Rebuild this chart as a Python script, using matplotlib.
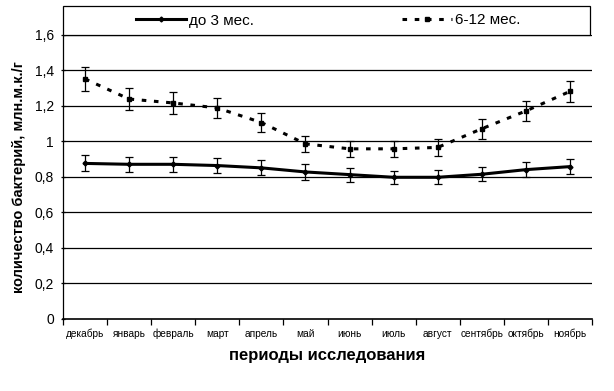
import matplotlib
matplotlib.use("Agg")
import matplotlib.pyplot as plt
from matplotlib.lines import Line2D
from matplotlib.patches import Rectangle
import numpy as np

months = ["декабрь", "январь", "февраль", "март", "апрель", "май",
          "июнь", "июль", "август", "сентябрь", "октябрь", "ноябрь"]
s1_name = "до 3 мес."
s2_name = "6-12 мес."
s1 = [0.875, 0.870, 0.870, 0.863, 0.850, 0.827, 0.812, 0.797, 0.797, 0.814, 0.840, 0.857]
s1_err = [0.045, 0.043, 0.043, 0.040, 0.042, 0.043, 0.040, 0.038, 0.040, 0.039, 0.042, 0.043]
s2 = [1.350, 1.237, 1.215, 1.187, 1.105, 0.985, 0.957, 0.957, 0.965, 1.070, 1.170, 1.280]
s2_err = [0.066, 0.064, 0.062, 0.056, 0.055, 0.046, 0.045, 0.045, 0.046, 0.055, 0.058, 0.060]
yticks = [0, 0.2, 0.4, 0.6, 0.8, 1.0, 1.2, 1.4, 1.6]
ytick_labels = ["0", "0,2", "0,4", "0,6", "0,8", "1", "1,2", "1,4", "1,6"]

plt.rcParams['font.family'] = ['Liberation Sans', 'DejaVu Sans']

fig = plt.figure(figsize=(6.14, 3.91), dpi=100)
ax = fig.add_axes([63/614, 1-319/391, (592-63)/614, (319-34.5)/391])

x = np.arange(len(months))
dash = (0, (1.5, 2.5))
ax.errorbar(x, s1, yerr=s1_err, color='black', lw=2.2, marker='D', ms=2.5,
            elinewidth=0.9, capsize=3, capthick=0.9, zorder=3)
ax.errorbar(x, s2, yerr=s2_err, color='black', lw=2.2, ls=dash, marker='s', ms=3.5,
            elinewidth=0.9, capsize=3, capthick=0.9, zorder=3)

ax.set_xlim(-0.5, len(months) - 0.5)
ax.set_ylim(0, 1.6)
ax.set_yticks(yticks)
ax.set_yticklabels(ytick_labels, fontsize=10)
for yv in yticks[1:]:
    ax.axhline(yv, color='black', lw=0.9, zorder=1)

ax.set_xticks(x)
ax.set_xticklabels(months, fontsize=7.3)
ax.tick_params(axis='x', length=0, pad=7)
ax.set_xticks(np.arange(-0.5, len(months)), minor=True)
ax.tick_params(axis='x', which='minor', length=4, width=0.9, direction='out')
ax.tick_params(axis='y', length=3, width=0.9, direction='inout', pad=5)

for side in ['top', 'right']:
    ax.spines[side].set_visible(False)
ax.spines['left'].set_linewidth(0.9)
ax.spines['bottom'].set_linewidth(1.2)

ax.set_xlabel("периоды исследования", fontsize=12, fontweight='bold', labelpad=6)
ax.set_ylabel("количество бактерий, млн.м.к./г", fontsize=10.5, fontweight='bold', labelpad=6)

# legend box
fig.patches.append(Rectangle((63/614, 1-35/391), (590-63)/614, 29/391,
                             transform=fig.transFigure, facecolor='white',
                             edgecolor='black', lw=0.9, zorder=5))
handles = [Line2D([], [], color='black', lw=2.2, marker='D', ms=2.5),
           Line2D([], [], color='black', lw=2.2, ls=dash, marker='s', ms=3.5)]
leg = fig.legend(handles, [s1_name, s2_name], loc='center',
                 bbox_to_anchor=(328/614, 1-20.5/391), ncol=2, frameon=False,
                 fontsize=11, handlelength=3.3, handletextpad=0.15,
                 columnspacing=9.7)
leg.set_zorder(6)

fig.savefig("out.png", dpi=100)
